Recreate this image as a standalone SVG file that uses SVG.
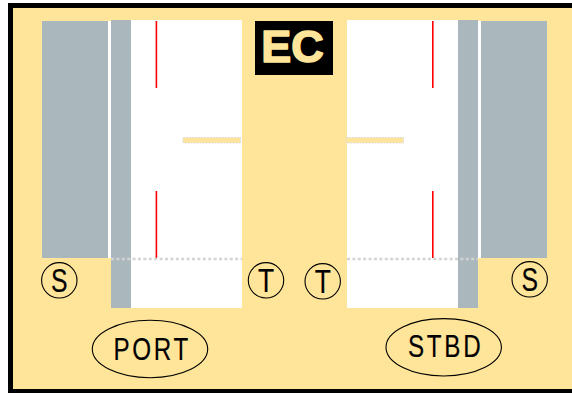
<svg xmlns="http://www.w3.org/2000/svg" width="572" height="393" viewBox="0 0 572 393">
<style>
.bg{fill:#ffe599}
.gray{fill:#aab7bd}
.white{fill:#fff}
.red{stroke:#f00;stroke-width:1.6;fill:none}
.bar{fill:#ffe599;stroke:#ddd;stroke-width:1;stroke-dasharray:2 1}
.dot{stroke:#d4d4d4;stroke-width:2.4;stroke-dasharray:3 2.4;fill:none}
.o{fill:none;stroke:#000;stroke-width:1.1}
text{font-family:"Liberation Sans",Arial,sans-serif;fill:#000}
.l{font-size:33px;text-anchor:middle;stroke:#000;stroke-width:.2}
.n{font-size:31px;letter-spacing:3.500px;stroke:#000;stroke-width:.2}
</style>
<rect width="572" height="393" fill="#fff"/>
<rect x="8" y="3" width="564" height="390" fill="#000"/>
<rect class="bg" x="13" y="8" width="559" height="381"/>
<g id="port-bay">
<rect class="gray" x="42" y="21" width="66" height="237"/>
<rect class="white" x="108" y="21" width="3" height="237"/>
<rect class="gray" x="111" y="20" width="20" height="288"/>
<rect class="white" x="131" y="20" width="111" height="288"/>
<path class="red" d="M156.400 21V88M156.400 191V258"/>
<rect class="bar" x="183" y="137.500" width="57.500" height="5.500"/>
</g>
<g id="stbd-bay">
<rect class="white" x="347" y="20" width="111" height="288"/>
<rect class="gray" x="458" y="20" width="20" height="288"/>
<rect class="white" x="478" y="21" width="3" height="237"/>
<rect class="gray" x="481" y="21" width="66" height="237"/>
<path class="red" d="M432.800 21V88M432.800 191V258"/>
<rect class="bar" x="346" y="137.500" width="57.500" height="5.500"/>
</g>
<g id="connectors">
<path class="dot" d="M111 259H242M347 259H478"/>
</g>
<g id="ec"><rect x="255" y="21" width="78" height="54" fill="#000"/><text transform="translate(292.500 61.500)" font-size="45" font-weight="700" text-anchor="middle" style="fill:#ffe599;stroke:#ffe599;stroke-width:1.600;stroke-linejoin:round">EC</text></g>
<g id="s-left"><circle class="o" cx="59.300" cy="280.300" r="17.700"/><text class="l" transform="translate(59.300 292) scale(.75 1)">S</text></g>
<g id="t-left"><circle class="o" cx="266" cy="280.300" r="17.700"/><text class="l" transform="translate(266 292) scale(.8 1)">T</text></g>
<g id="t-right"><circle class="o" cx="322.700" cy="281.300" r="17.700"/><text class="l" transform="translate(322.700 293) scale(.8 1)">T</text></g>
<g id="s-right"><circle class="o" cx="529.700" cy="279.300" r="17.700"/><text class="l" transform="translate(529.700 291) scale(.75 1)">S</text></g>
<g id="port"><ellipse class="o" cx="150" cy="349" rx="57.700" ry="28.700"/><text class="n" transform="translate(113.500 360) scale(.78 1)">PORT</text></g>
<g id="stbd"><ellipse class="o" cx="443.700" cy="347.300" rx="57.700" ry="28.700"/><text class="n" transform="translate(408 357) scale(.78 1)">STBD</text></g>
</svg>
